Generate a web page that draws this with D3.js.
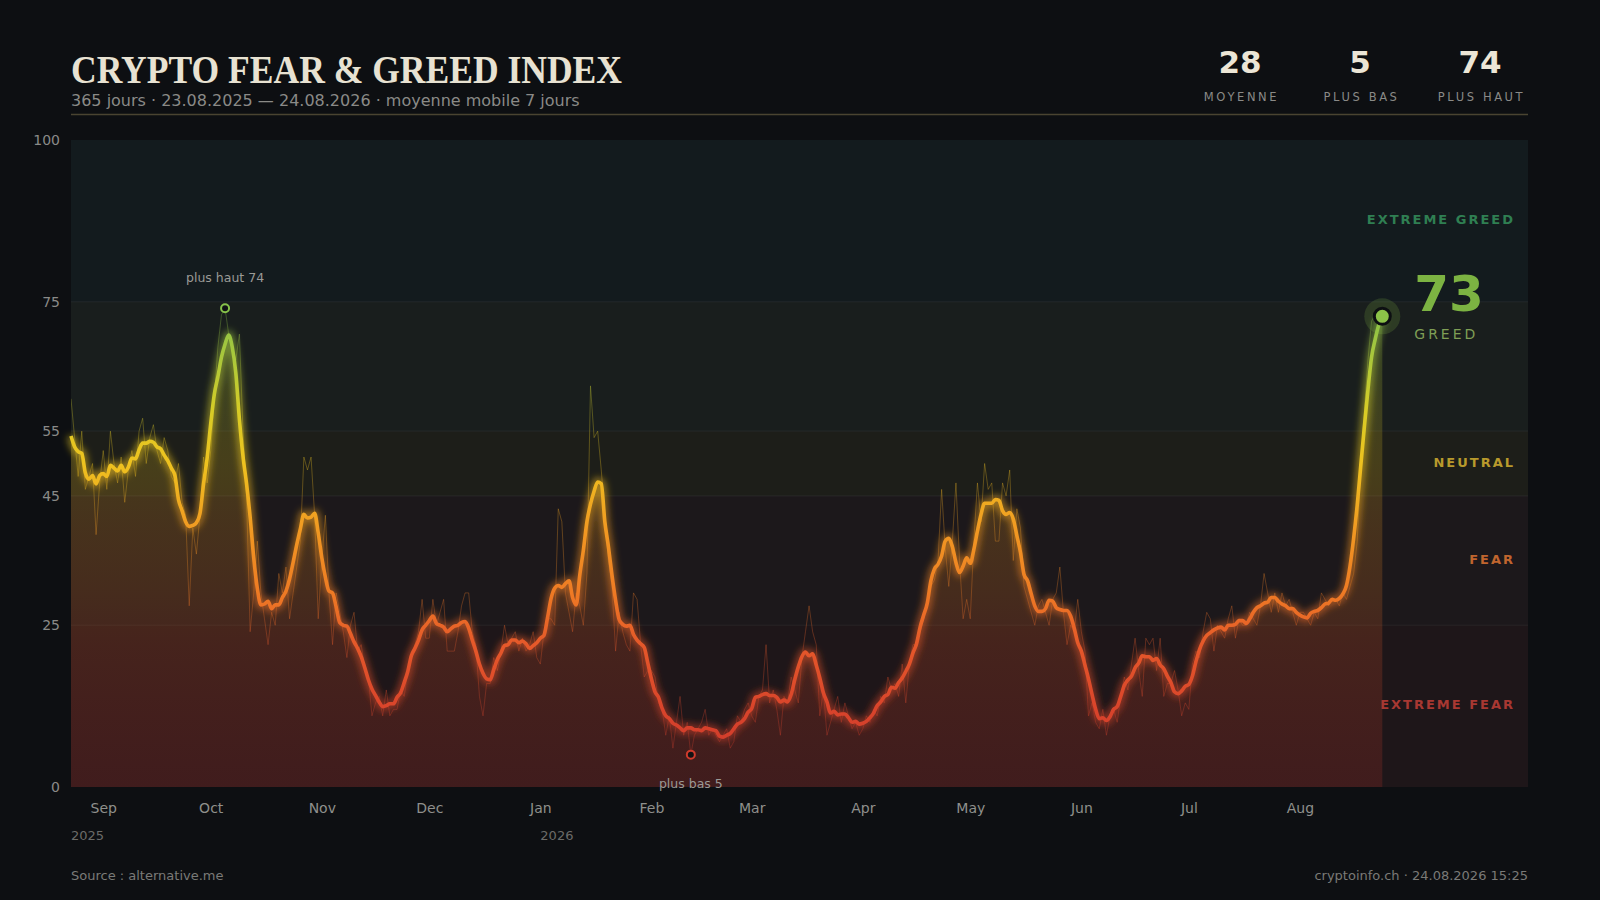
<!DOCTYPE html>
<html>
<head>
<meta charset="utf-8">
<script src="https://cdn.jsdelivr.net/npm/d3@7"></script>
<style>
  html, body { margin: 0; padding: 0; background: #0d0f12; }
  svg { display: block; }
  text { font-family: 'DejaVu Sans', sans-serif; }
</style>
</head>
<body>
<div id="chart"></div>
<script>
// Daily index values, 23.08.2025 -> 24.08.2026 (one array per month)
const aug2025 = [60, 54, 48, 55, 46, 48, 50, 39, 47];
const sep2025 = [52, 46, 55, 50, 47, 51, 44, 49, 52, 48, 55, 57, 50, 54, 56, 52, 50, 54, 52, 48, 47, 50, 44, 42, 28, 40, 36, 42, 51, 47];
const oct2025 = [52, 60, 68, 73, 74, 70, 68, 66, 70, 55, 45, 24, 30, 38, 30, 26, 22, 27, 25, 33, 30, 34, 26, 30, 34, 38, 51, 49, 51, 42, 26];
const nov2025 = [35, 42, 30, 22, 30, 27, 24, 20, 25, 27, 21, 22, 18, 17, 11, 13, 14, 11, 15, 11, 12, 12, 15, 14, 18, 20, 22, 24, 29, 23];
const dec2025 = [23, 29, 25, 27, 29, 21, 21, 21, 24, 28, 30, 30, 24, 22, 14, 11, 16, 16, 20, 18, 21, 25, 22, 23, 24, 21, 23, 21, 22, 24, 20];
const jan2026 = [19, 24, 26, 26, 25, 43, 41, 30, 27, 24, 30, 28, 25, 33, 62, 54, 55, 49, 42, 35, 31, 21, 27, 24, 22, 21, 30, 29, 22, 17, 18];
const feb2026 = [18, 17, 13, 12, 8, 11, 6, 10, 14, 8, 10, 5, 8, 9, 10, 12, 8, 9, 8, 7, 8, 9, 6, 7, 11, 10, 12, 13];
const mar2026 = [11, 10, 14, 15, 22, 13, 15, 12, 8, 14, 13, 17, 15, 13, 20, 24, 28, 24, 22, 11, 15, 8, 10, 12, 14, 10, 13, 11, 9, 10, 8];
const apr2026 = [9, 11, 10, 12, 11, 14, 13, 17, 15, 16, 14, 19, 13, 19, 22, 22, 24, 26, 29, 31, 32, 35, 46, 37, 31, 38, 47, 35, 26, 29];
const may2026 = [26, 38, 47, 41, 50, 46, 47, 38, 38, 47, 45, 49, 35, 43, 40, 31, 29, 27, 25, 28, 29, 27, 25, 29, 30, 34, 27, 22, 25, 24, 29];
const jun2026 = [24, 21, 11, 13, 10, 9, 12, 8, 11, 12, 10, 14, 17, 15, 19, 23, 18, 14, 23, 22, 23, 18, 23, 14, 16, 16, 18, 15, 11, 13];
const jul2026 = [12, 19, 21, 20, 24, 27, 26, 21, 25, 24, 23, 26, 28, 23, 26, 25, 25, 27, 26, 25, 28, 33, 30, 27, 30, 27, 30, 28, 29, 27, 25];
const aug2026 = [27, 27, 26, 25, 27, 26, 30, 29, 28, 29, 29, 28, 30, 29, 31, 33, 38, 50, 58, 66, 72, 73, 73, 73];

const startDate = new Date(2025, 7, 23);

// zones of the index
const zoneBreaks = [0, 25, 45, 55, 75, 100];
const zoneNames = ['EXTREME FEAR', 'FEAR', 'NEUTRAL', 'GREED', 'EXTREME GREED'];
const yTicks = [0, 25, 45, 55, 75, 100];

const titleText = 'CRYPTO FEAR & GREED INDEX';
const subtitleText = '365 jours · 23.08.2025 — 24.08.2026 · moyenne mobile 7 jours';
const sourceText = 'Source : alternative.me';
const creditText = 'cryptoinfo.ch · 24.08.2026 15:25';

// Set the dimensions
const W = 1600;
const H = 900;
const margin = { top: 140, right: 72, bottom: 113, left: 71 };
const width = W - margin.left - margin.right;
const height = H - margin.top - margin.bottom;

const values = [aug2025, sep2025, oct2025, nov2025, dec2025, jan2026, feb2026,
  mar2026, apr2026, may2026, jun2026, jul2026, aug2026].flat();

const data = values.map((v, i) => ({ date: d3.timeDay.offset(startDate, i), value: v }));

// centred 7 day moving average
data.forEach((d, i) => {
  d.ma = d3.mean(values.slice(Math.max(0, i - 3), i + 4));
});

const x = d3.scaleTime()
  .domain(d3.extent(data, d => d.date))
  .range([0, width * 0.9]);
const y = d3.scaleLinear().domain([0, 100]).range([height, 0]);

// colour by value
const stopVals = [0, 12, 22, 30, 40, 50, 58, 66, 74, 100];
const stopCols = ['#c8342c', '#d9442b', '#e5582a', '#ee7a24', '#f19a22', '#eec21f', '#d8cc26', '#acc83a', '#86c24a', '#5fb55a'];
const colorAt = d3.scaleLinear().domain(stopVals).range(stopCols);

const bandFill = ['#1e1619', '#1c181b', '#1d1e19', '#191e1d', '#131b1e'];
const zoneCol = ['#a83832', '#c0652e', '#b89a2c', '#7f9f55', '#2f7f52'];

const svg = d3.select('#chart')
  .append('svg')
  .attr('width', W)
  .attr('height', H);

svg.append('rect').attr('width', W).attr('height', H).attr('fill', '#0d0f12');

const defs = svg.append('defs');

const addGrad = (id, opacity) => {
  const gr = defs.append('linearGradient')
    .attr('id', id)
    .attr('gradientUnits', 'userSpaceOnUse')
    .attr('x1', 0).attr('x2', 0)
    .attr('y1', y(0)).attr('y2', y(100));
  gr.selectAll('stop')
    .data(stopVals)
    .join('stop')
    .attr('offset', d => d / 100)
    .attr('stop-color', (d, i) => stopCols[i])
    .attr('stop-opacity', opacity);
};
addGrad('lineGrad', 1);
addGrad('fillGrad', 0.2);

defs.append('filter')
  .attr('id', 'glow')
  .attr('x', '-10%').attr('y', '-10%')
  .attr('width', '120%').attr('height', '120%')
  .append('feGaussianBlur')
  .attr('stdDeviation', 3.5);

defs.append('clipPath').attr('id', 'plotClip')
  .append('rect').attr('width', width).attr('height', height);

const g = svg.append('g')
  .attr('transform', `translate(${margin.left}, ${margin.top})`);

// zone bands
g.selectAll('rect.band')
  .data(d3.pairs(zoneBreaks))
  .join('rect')
  .attr('class', 'band')
  .attr('x', 0)
  .attr('width', width)
  .attr('y', d => y(d[1]))
  .attr('height', d => y(d[0]) - y(d[1]))
  .attr('fill', (d, i) => bandFill[i]);

g.selectAll('line.zone')
  .data(zoneBreaks.slice(1, -1))
  .join('line')
  .attr('class', 'zone')
  .attr('x1', 0).attr('x2', width)
  .attr('y1', d => y(d)).attr('y2', d => y(d))
  .attr('stroke', '#ffffff')
  .attr('stroke-opacity', 0.07);

// area + lines
const area = d3.area()
  .x(d => x(d.date))
  .y0(height)
  .y1(d => y(d.ma))
  .curve(d3.curveMonotoneX);

const maLine = d3.line()
  .x(d => x(d.date))
  .y(d => y(d.ma))
  .curve(d3.curveMonotoneX);

const rawLine = d3.line()
  .x(d => x(d.date))
  .y(d => y(d.value));

const plot = g.append('g').attr('clip-path', 'url(#plotClip)');

plot.append('path')
  .datum(data)
  .attr('d', area)
  .attr('fill', 'url(#fillGrad)');

plot.append('path')
  .datum(data)
  .attr('d', rawLine)
  .attr('fill', 'none')
  .attr('stroke', 'url(#lineGrad)')
  .attr('stroke-width', 1)
  .attr('stroke-opacity', 0.32);

g.append('path')
  .datum(data)
  .attr('d', maLine)
  .attr('fill', 'none')
  .attr('stroke', 'url(#lineGrad)')
  .attr('stroke-width', 9)
  .attr('stroke-opacity', 0.55)
  .attr('filter', 'url(#glow)');

g.append('path')
  .datum(data)
  .attr('d', maLine)
  .attr('fill', 'none')
  .attr('stroke', 'url(#lineGrad)')
  .attr('stroke-width', 3.6)
  .attr('stroke-linejoin', 'round');

// zone labels (current zone shown by the big label)
const last = data[data.length - 1];
const current = Math.round(last.ma);
const currentZone = d3.bisectRight(zoneBreaks.slice(1, -1), current);

g.selectAll('text.zone')
  .data(zoneNames.map((n, i) => ({ n, i })).filter(d => d.i !== currentZone))
  .join('text')
  .attr('class', 'zone')
  .attr('x', width - 13)
  .attr('y', d => y((zoneBreaks[d.i] + zoneBreaks[d.i + 1]) / 2) + 3)
  .attr('text-anchor', 'end')
  .attr('font-size', 13)
  .attr('font-weight', 'bold')
  .attr('letter-spacing', 2)
  .attr('fill', d => zoneCol[d.i])
  .text(d => d.n);

// min / max markers
const maxPt = data.reduce((a, b) => (b.value > a.value ? b : a));
const minPt = data.reduce((a, b) => (b.value < a.value ? b : a));

[[maxPt, -26, 'plus haut '], [minPt, 33, 'plus bas ']].forEach(([p, dy, lab]) => {
  g.append('circle')
    .attr('cx', x(p.date))
    .attr('cy', y(p.value))
    .attr('r', 4)
    .attr('fill', '#111315')
    .attr('stroke', colorAt(p.value))
    .attr('stroke-width', 2);
  g.append('text')
    .attr('x', x(p.date))
    .attr('y', y(p.value) + dy)
    .attr('text-anchor', 'middle')
    .attr('font-size', 12.5)
    .attr('fill', '#9a9a96')
    .text(lab + p.value);
});

// current point
const cx = x(last.date);
const cy = y(last.ma);
g.append('circle').attr('cx', cx).attr('cy', cy).attr('r', 18)
  .attr('fill', colorAt(last.ma)).attr('fill-opacity', 0.18);
g.append('circle').attr('cx', cx).attr('cy', cy).attr('r', 8)
  .attr('fill', colorAt(last.ma))
  .attr('stroke', '#0d0f12')
  .attr('stroke-width', 3);

g.append('text')
  .attr('x', cx + 32)
  .attr('y', cy - 5)
  .attr('font-size', 50)
  .attr('font-weight', 'bold')
  .attr('fill', '#7cb342')
  .text(current);

g.append('text')
  .attr('x', cx + 32)
  .attr('y', cy + 23)
  .attr('font-size', 14)
  .attr('letter-spacing', 3)
  .attr('fill', '#7f9f55')
  .text(zoneNames[currentZone]);

// Y axis
const yAxis = g.append('g')
  .call(d3.axisLeft(y).tickValues(yTicks).tickSize(0).tickPadding(11));
yAxis.select('.domain').remove();
yAxis.selectAll('text')
  .attr('font-size', 14)
  .attr('fill', '#8a8a88')
  .style('font-family', "'DejaVu Sans', sans-serif");

// X axis
const monthTicks = d3.timeMonth.range(d3.timeMonth.ceil(x.domain()[0]), x.domain()[1]);
const xAxis = g.append('g')
  .attr('transform', `translate(0, ${height})`)
  .call(d3.axisBottom(x)
    .tickValues(monthTicks)
    .tickFormat(d3.timeFormat('%b'))
    .tickSize(0)
    .tickPadding(16));
xAxis.select('.domain').remove();
xAxis.selectAll('text')
  .attr('font-size', 14)
  .attr('fill', '#8f8f8c')
  .style('font-family', "'DejaVu Sans', sans-serif");

const yearMarks = [x.domain()[0]].concat(monthTicks.filter(d => d.getMonth() === 0));
g.selectAll('text.year')
  .data(yearMarks)
  .join('text')
  .attr('class', 'year')
  .attr('x', d => x(d))
  .attr('y', height + 53)
  .attr('font-size', 13)
  .attr('fill', '#6b6b68')
  .text(d => d.getFullYear());

// header
svg.append('text')
  .attr('x', margin.left)
  .attr('y', 83)
  .attr('font-size', 39)
  .attr('font-weight', 'bold')
  .attr('textLength', 551)
  .attr('lengthAdjust', 'spacingAndGlyphs')
  .attr('fill', '#e8e2d2')
  .style('font-family', "'Liberation Serif', serif")
  .text(titleText);

svg.append('text')
  .attr('x', margin.left)
  .attr('y', 106)
  .attr('font-size', 16)
  .attr('fill', '#8a8a87')
  .text(subtitleText);

svg.append('line')
  .attr('x1', margin.left).attr('x2', margin.left + width)
  .attr('y1', 114.5).attr('y2', 114.5)
  .attr('stroke', '#4a4431')
  .attr('stroke-width', 1.5);

const stats = [
  { label: 'MOYENNE', value: Math.round(d3.mean(values)) },
  { label: 'PLUS BAS', value: d3.min(values) },
  { label: 'PLUS HAUT', value: d3.max(values) },
];
const statX = d3.scalePoint().domain(stats.map(d => d.label)).range([1240, 1480]);

const st = svg.selectAll('g.stat')
  .data(stats)
  .join('g')
  .attr('class', 'stat')
  .attr('transform', d => `translate(${statX(d.label)}, 0)`);
st.append('text')
  .attr('y', 73)
  .attr('text-anchor', 'middle')
  .attr('font-size', 31)
  .attr('font-weight', 'bold')
  .attr('fill', '#ece6d6')
  .text(d => d.value);
st.append('text')
  .attr('x', 1.5)
  .attr('y', 101)
  .attr('text-anchor', 'middle')
  .attr('font-size', 11.5)
  .attr('letter-spacing', 2.6)
  .attr('fill', '#8a8a87')
  .text(d => d.label);

// footer
svg.append('text')
  .attr('x', margin.left)
  .attr('y', 880)
  .attr('font-size', 13)
  .attr('fill', '#7a7a77')
  .text(sourceText);

svg.append('text')
  .attr('x', margin.left + width)
  .attr('y', 880)
  .attr('text-anchor', 'end')
  .attr('font-size', 13)
  .attr('fill', '#7a7a77')
  .text(creditText);
</script>
</body>
</html>
